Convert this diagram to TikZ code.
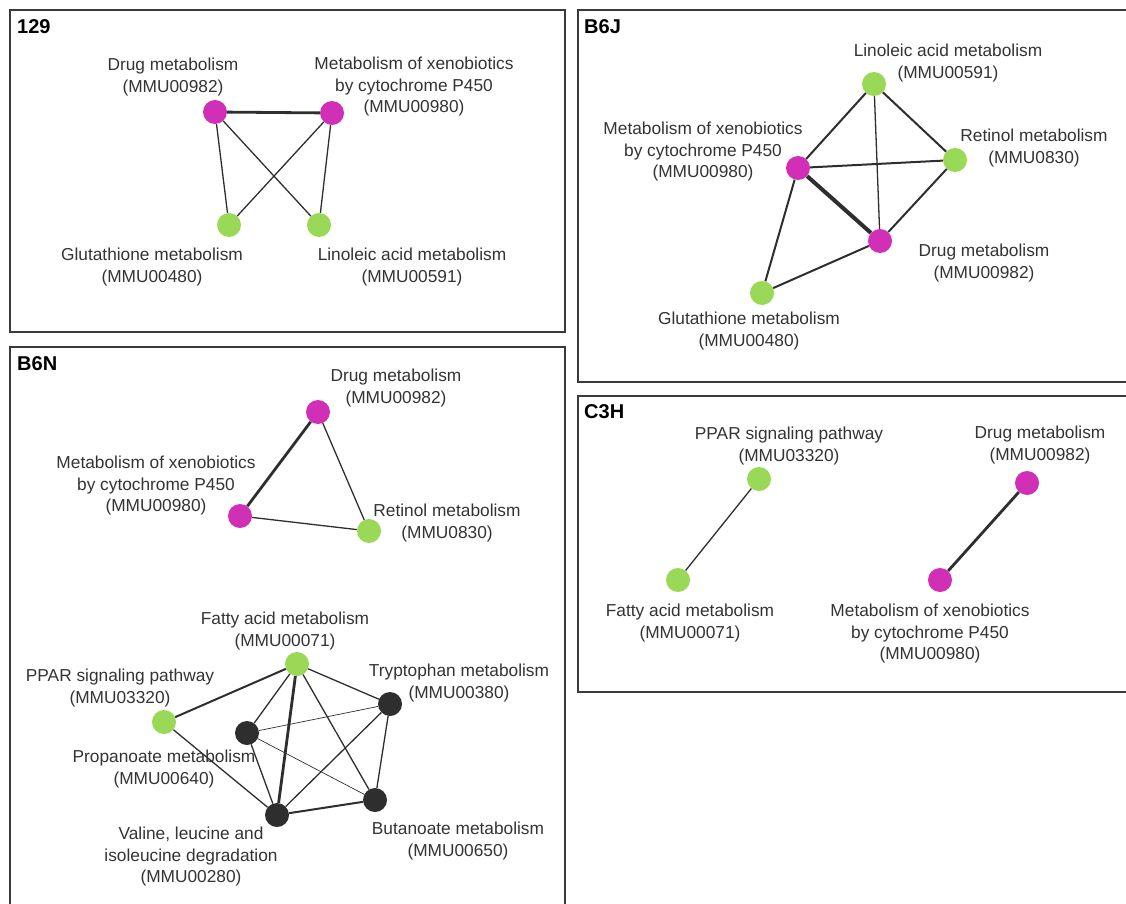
\documentclass[tikz,border=0pt]{standalone}
\usepackage{fontspec}
\setmainfont{Liberation Sans}
\definecolor{mag}{HTML}{D12FB5}
\definecolor{grn}{HTML}{99D957}
\definecolor{drk}{HTML}{2E2E2E}
\definecolor{txt}{HTML}{333333}
\definecolor{frm}{HTML}{3A3A3A}
\begin{document}
\begin{tikzpicture}[x=1pt,y=-1pt,
  frame/.style={draw=frm,line width=2pt},
  nd/.style={circle,inner sep=0pt,minimum size=24pt},
  mg/.style={nd,fill=mag},
  gr/.style={nd,fill=grn},
  dk/.style={nd,fill=drk},
  lbl/.style={align=center,inner sep=0pt,text=txt,font=\fontsize{17.3}{21.5}\selectfont},
  ttl/.style={anchor=west,inner sep=0pt,font=\fontsize{20}{24}\selectfont\bfseries},
  ew/.style={draw=drk,line width=0.7pt},
  en/.style={draw=drk,line width=1.3pt},
  em/.style={draw=drk,line width=2pt},
  et/.style={draw=drk,line width=2.8pt},
  ex/.style={draw=drk,line width=4pt}]
\useasboundingbox (0,0) rectangle (1126,904);
\clip (0,0) rectangle (1126,904);
% frames
\draw[frame] (10,10) rectangle (565,332);
\draw[frame] (578,10) rectangle (1140,382);
\draw[frame] (10,347) rectangle (565,920);
\draw[frame] (578,396) rectangle (1140,692);
% titles
\node[ttl] (t129) at (17,27) {129};
\node[ttl] (tb6j) at (584,27) {B6J};
\node[ttl] (tb6n) at (17,364) {B6N};
\node[ttl] (tc3h) at (584,412) {C3H};

% ---- 129
\node[mg] (a1) at (215,112) {};
\node[mg] (a2) at (332,113) {};
\node[gr] (a3) at (229,225) {};
\node[gr] (a4) at (319,225) {};
\draw[et] (a1) -- (a2);
\draw[en] (a1) -- (a3);
\draw[en] (a1) -- (a4);
\draw[en] (a2) -- (a3);
\draw[en] (a2) -- (a4);
\node[lbl] (la1) at (173,77) {Drug metabolism\\(MMU00982)};
\node[lbl] (la2) at (414,87) {Metabolism of xenobiotics\\by cytochrome P450\\(MMU00980)};
\node[lbl] (la3) at (152,267) {Glutathione metabolism\\(MMU00480)};
\node[lbl] (la4) at (412,267) {Linoleic acid metabolism\\(MMU00591)};

% ---- B6J
\node[gr] (b1) at (874,84) {};
\node[mg] (b2) at (798,168) {};
\node[gr] (b3) at (955,160) {};
\node[mg] (b4) at (880,241) {};
\node[gr] (b5) at (762,293) {};
\draw[em] (b1) -- (b2);
\draw[en] (b1) -- (b4);
\draw[em] (b1) -- (b3);
\draw[em] (b2) -- (b3);
\draw[ex] (b2) -- (b4);
\draw[em] (b3) -- (b4);
\draw[em] (b2) -- (b5);
\draw[em] (b4) -- (b5);
\node[lbl] (lb1) at (948,63) {Linoleic acid metabolism\\(MMU00591)};
\node[lbl] (lb2) at (703,152) {Metabolism of xenobiotics\\by cytochrome P450\\(MMU00980)};
\node[lbl] (lb3) at (1034,148) {Retinol metabolism\\(MMU0830)};
\node[lbl] (lb4) at (984,263) {Drug metabolism\\(MMU00982)};
\node[lbl] (lb5) at (749,331) {Glutathione metabolism\\(MMU00480)};

% ---- B6N top
\node[mg] (c1) at (318,412) {};
\node[mg] (c2) at (240,516) {};
\node[gr] (c3) at (369,531) {};
\draw[et] (c1) -- (c2);
\draw[en] (c1) -- (c3);
\draw[en] (c2) -- (c3);
\node[lbl] (lc1) at (396,388) {Drug metabolism\\(MMU00982)};
\node[lbl] (lc2) at (156,486) {Metabolism of xenobiotics\\by cytochrome P450\\(MMU00980)};
\node[lbl] (lc3) at (447,523) {Retinol metabolism\\(MMU0830)};

% ---- B6N bottom
\node[gr] (d1) at (297,664) {};
\node[gr] (d2) at (164,722) {};
\node[dk] (d3) at (390,704) {};
\node[dk] (d4) at (247,733) {};
\node[dk] (d5) at (375,800) {};
\node[dk] (d6) at (277,815) {};
\draw[em] (d1) -- (d2);
\draw[en] (d1) -- (d3);
\draw[en] (d1) -- (d4);
\draw[et] (d1) -- (d6);
\draw[en] (d1) -- (d5);
\draw[en] (d2) -- (d6);
\draw[ew] (d4) -- (d3);
\draw[ew] (d4) -- (d5);
\draw[en] (d4) -- (d6);
\draw[en] (d3) -- (d6);
\draw[en] (d3) -- (d5);
\draw[em] (d6) -- (d5);
\node[lbl] (ld1) at (285,631) {Fatty acid metabolism\\(MMU00071)};
\node[lbl] (ld2) at (120,688) {PPAR signaling pathway\\(MMU03320)};
\node[lbl] (ld3) at (459,683) {Tryptophan metabolism\\(MMU00380)};
\node[lbl] (ld4) at (164,769) {Propanoate metabolism\\(MMU00640)};
\node[lbl] (ld6) at (191,857) {Valine, leucine and\\isoleucine degradation\\(MMU00280)};
\node[lbl] (ld5) at (458,841) {Butanoate metabolism\\(MMU00650)};

% ---- C3H
\node[gr] (e1) at (759,479) {};
\node[gr] (e2) at (678,580) {};
\node[mg] (e3) at (1027,483) {};
\node[mg] (e4) at (940,580) {};
\draw[en] (e1) -- (e2);
\draw[et] (e3) -- (e4);
\node[lbl] (le1) at (789,446) {PPAR signaling pathway\\(MMU03320)};
\node[lbl] (le3) at (1040,445) {Drug metabolism\\(MMU00982)};
\node[lbl] (le2) at (690,623) {Fatty acid metabolism\\(MMU00071)};
\node[lbl] (le4) at (930,634) {Metabolism of xenobiotics\\by cytochrome P450\\(MMU00980)};
\end{tikzpicture}
\end{document}
